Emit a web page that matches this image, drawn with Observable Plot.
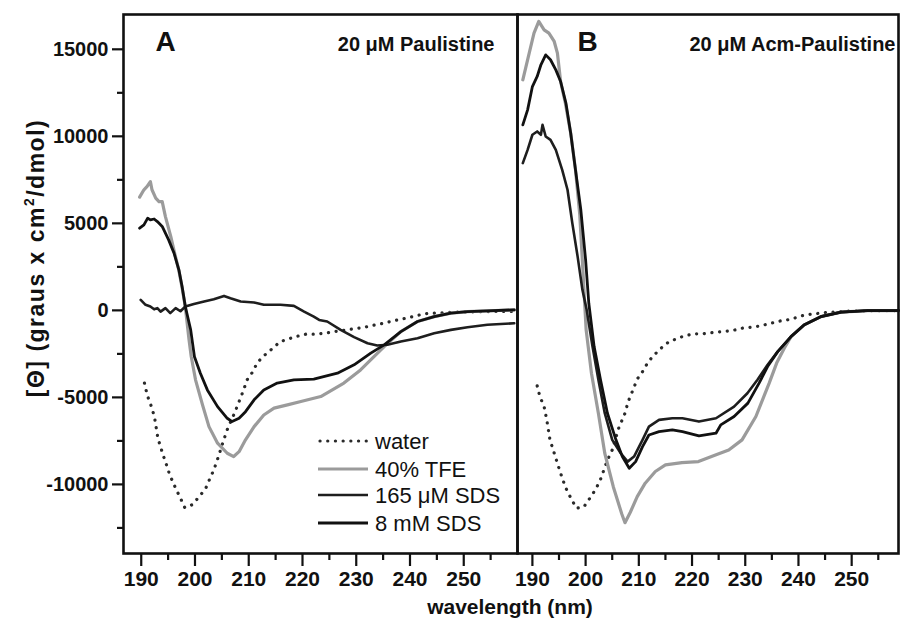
<!DOCTYPE html>
<html><head><meta charset="utf-8">
<script src="https://cdn.jsdelivr.net/npm/d3@7"></script>
<script src="https://cdn.jsdelivr.net/npm/@observablehq/plot@0.6"></script>
<style>
body{margin:0;background:#fff;font-family:"Liberation Sans",Arial,sans-serif;}
#wrap{position:relative;width:900px;height:623px;overflow:hidden;background:#fff;}
#wrap svg{position:absolute;top:0;}
.ov{position:absolute;color:#111;font-family:"Liberation Sans",Arial,sans-serif;}
</style></head><body><div id="wrap"></div>
<script>
// ---------- Panel A : 20 µM Paulistine ----------
const aWaterWl=[190.6,191.1,192.0,192.5,193.1,194.0,194.7,195.3,196.4,197.3,198.1,199.4,200.7,202.0,202.8,203.5,204.2,205.4,206.1,207.4,208.2,209.0,209.7,210.7,211.6,213.0,214.5,215.8,217.2,218.7,220.6,222.5,224.3,225.9,229.6,231.5,233.3,235.1,236.9,238.6,240.5,242.6,244.4,247,250,254,259.5];
const aWaterVal=[-4180,-4860,-5620,-6200,-7350,-8250,-8880,-9450,-10220,-10790,-11330,-11180,-10740,-10220,-9640,-9170,-8550,-7400,-6770,-5870,-5240,-4610,-3990,-3550,-3000,-2560,-2170,-1810,-1660,-1510,-1370,-1370,-1310,-1220,-1060,-970,-850,-740,-600,-490,-360,-200,-160,-120,-90,-70,-60];

const aTfeWl=[189.7,190.5,191.1,191.7,192.0,192.7,193.3,193.9,194.5,195.5,196.2,197.0,197.6,198.2,198.9,199.3,200.1,201.4,202.6,204.2,206.0,207.2,208.2,209.4,211.0,212.8,214.7,217.2,219.7,223.4,227.7,230.8,233.3,235.2,238.3,241.4,244.5,247.6,250.7,254.4,259.4];
const aTfeVal=[6510,6930,7120,7400,6930,6450,6250,6250,5390,4240,3300,2300,1300,200,-1700,-2650,-3990,-5430,-6680,-7630,-8210,-8400,-8120,-7440,-6680,-6010,-5620,-5430,-5240,-4950,-4180,-3420,-2660,-2080,-1220,-640,-360,-160,-70,-30,30];

const aSds165Wl=[189.9,190.8,191.7,192.4,193.0,193.6,194.5,195.4,196.4,197.3,198.2,199.8,201.7,203.5,205.4,206.6,208.5,211.0,212.8,215.9,218.4,220.3,222.1,223.1,224.6,227.1,229.6,232.1,233.9,235.8,238.3,241.4,244.5,247.6,250.7,254.4,259.4];
const aSds165Val=[600,320,220,60,130,-70,130,-160,130,-50,220,370,510,640,830,700,510,450,320,320,260,-70,-360,-550,-640,-1120,-1540,-1890,-2020,-1980,-1790,-1600,-1310,-1120,-970,-830,-740];

const aSds8Wl=[189.7,190.5,191.2,191.7,192.4,193.0,193.9,195.1,196.1,197.0,197.6,198.2,199.2,199.9,201.0,202.3,204.2,206.0,206.9,208.2,209.4,211.0,212.8,215.3,218.4,222.1,226.5,229.6,232.7,235.2,238.3,241.4,244.5,247.6,250.7,254.4,259.4];
const aSds8Val=[4720,4910,5300,5200,5250,5100,4820,4050,3290,2330,1370,220,-1120,-2660,-3610,-4570,-5530,-6200,-6390,-6200,-5820,-5140,-4570,-4180,-3990,-3950,-3610,-3130,-2460,-1980,-1220,-640,-360,-160,-70,-30,30];

// ---------- Panel B : 20 µM Acm-Paulistine ----------
const bWaterWl=[190.9,191.4,192.2,192.7,193.3,194.2,194.9,195.6,196.3,197.4,198.3,199.7,200.8,201.9,202.8,204.1,205.0,206.2,207.4,208.0,208.9,209.7,210.7,211.8,212.9,214.3,215.7,216.9,218.5,220.4,222.0,223.8,225.7,227.6,229.5,231.0,232.9,234.8,236.7,238.6,240.5,242.3,244.2,246.1,249,253,258.6];
const bWaterVal=[-4340,-4950,-5530,-6290,-7440,-8300,-8980,-9640,-10220,-10890,-11370,-11280,-10790,-10280,-9710,-8600,-8020,-6780,-5910,-5240,-4570,-3950,-3520,-2940,-2560,-2140,-1790,-1660,-1470,-1350,-1350,-1280,-1220,-1160,-1020,-970,-890,-740,-600,-510,-320,-220,-160,-100,-50,-20,-10];

const bTfeWl=[188.2,189.4,190.3,191.2,192.2,193.1,194.1,194.7,195.3,196.2,197.2,198.1,198.9,199.4,200.1,201.1,202.4,203.6,205.2,206.8,207.4,208.4,209.7,211.2,213.1,215.0,218.1,221.2,224.4,226.9,229.4,232.0,234.5,235.9,237.5,238.6,241.1,244.2,248.0,253.0,258.8];
const bTfeVal=[13250,14780,15930,16600,16120,15930,15450,14780,13150,11900,10180,8070,5500,2800,-1120,-3610,-5910,-8210,-10130,-11700,-12200,-11600,-10700,-9930,-9260,-8880,-8750,-8690,-8310,-8020,-7440,-6100,-4180,-3030,-2080,-1510,-830,-360,-100,-10,-10];

const bSds8Wl=[188.2,189.1,190.0,190.9,191.6,192.5,193.4,194.4,195.3,196.3,197.2,198.1,199.1,200.0,200.6,201.6,202.8,204.1,205.7,206.9,208.2,209.4,210.7,211.9,213.8,216.3,218.2,221.3,224.5,225.4,227.9,230.5,232.6,234.2,236.1,238.6,241.1,244.2,248.0,253.0,258.8];
const bSds8Val=[10660,11520,12860,13440,14110,14680,14400,13820,13150,11910,10180,8070,5780,2900,410,-2080,-3990,-5910,-7440,-8400,-9070,-8690,-7830,-7160,-6970,-6870,-6970,-7210,-7060,-6580,-6100,-5330,-4180,-3230,-2370,-1510,-830,-360,-100,-10,-10];

const bSds165Wl=[188.2,189.1,190.0,190.9,191.6,191.9,192.5,193.4,194.4,195.6,196.6,197.5,198.5,199.4,200.2,201.3,202.4,203.6,205.0,206.6,207.9,209.1,210.7,211.9,213.8,216.3,218.2,221.3,224.5,227.9,230.4,232.3,234.2,236.1,238.6,241.1,244.2,248.0,253.0,258.8];
const bSds165Val=[8460,9220,10090,10280,10090,10660,9990,9800,9220,8070,6930,5010,3090,1180,30,-2080,-3990,-5910,-7440,-8210,-8690,-8400,-7440,-6680,-6290,-6200,-6200,-6390,-6200,-5530,-4760,-3990,-3130,-2370,-1510,-830,-360,-100,-10,-10];

// ---------- axes ----------
const yMajor=[-10000,-5000,0,5000,10000,15000];
const yMinor=[-12500,-7500,-2500,2500,7500,12500];
const xMajor=[190,200,210,220,230,240,250];
const xMinor=[195,205,215,225,235,245,255];
const yDomain=[-13970,17000];
const legendNames=["water","40% TFE","165 \u03bcM SDS","8 mM SDS"];

const rows=(wl,val)=>wl.map((w,i)=>({wl:w,v:val[i]}));
const FONT='"Liberation Sans", Arial, sans-serif';

function panel(cfg){
  const marks=[
    Plot.line(rows(cfg.water[0],cfg.water[1]),{x:"wl",y:"v",stroke:"#2a2a2a",strokeWidth:3.2,strokeDasharray:"0.1,7.6",strokeLinecap:"round"}),
    Plot.line(rows(cfg.tfe[0],cfg.tfe[1]),{x:"wl",y:"v",stroke:"#9b9b9b",strokeWidth:3.2,strokeLinejoin:"round"}),
    Plot.line(rows(cfg.s165[0],cfg.s165[1]),{x:"wl",y:"v",stroke:"#1e1e1e",strokeWidth:2.6,strokeLinejoin:"round"}),
    Plot.line(rows(cfg.s8[0],cfg.s8[1]),{x:"wl",y:"v",stroke:"#111",strokeWidth:2.8,strokeLinejoin:"round"}),
    Plot.frame({stroke:"#111",strokeWidth:2.6}),
    Plot.axisX({ticks:xMajor,tickSize:13,tickPadding:5,tickFormat:d=>String(d),fontSize:21,fontWeight:"bold",strokeWidth:2.2,label:null}),
    Plot.axisX({ticks:xMinor,tickSize:7,tickFormat:()=>"",strokeWidth:2.2,label:null}),
    Plot.text([cfg.letter],{frameAnchor:"top-left",dx:cfg.letterDx,dy:28,fontSize:28,fontWeight:"bold",textAnchor:"start",lineAnchor:"middle",fill:"#111"}),
    Plot.text([cfg.title],{frameAnchor:"top-right",dx:cfg.titleDx,dy:30,fontSize:20,fontWeight:"bold",textAnchor:"end",lineAnchor:"middle",fill:"#111",letterSpacing:"1.4px"})
  ];
  if(cfg.yAxis){
    marks.push(Plot.axisY({ticks:yMajor,tickSize:11,tickPadding:4,tickFormat:d=>String(d),fontSize:20,fontWeight:"bold",strokeWidth:2.2,label:null}));
    marks.push(Plot.axisY({ticks:yMinor,tickSize:6,tickFormat:()=>"",strokeWidth:2.2,label:null}));
  }
  return Plot.plot({
    width:cfg.width,height:623,marginTop:14,marginBottom:70,marginLeft:cfg.ml,marginRight:cfg.mr,
    x:{domain:cfg.xDomain,label:null},
    y:{domain:yDomain,label:null,axis:cfg.yAxis?undefined:null},
    style:{fontFamily:FONT,color:"#111",background:"transparent",overflow:"visible"},
    marks
  });
}

const wrap=document.getElementById("wrap");
const left=panel({width:518,ml:123,mr:1,xDomain:[186.7,260],yAxis:true,
  water:[aWaterWl,aWaterVal],tfe:[aTfeWl,aTfeVal],s165:[aSds165Wl,aSds165Val],s8:[aSds8Wl,aSds8Val],
  letter:"A",letterDx:32,title:"20 \u03bcM Paulistine",titleDx:-23});
left.style.left="0px";
const right=panel({width:384,ml:1,mr:2,xDomain:[187.2,258.8],yAxis:false,
  water:[bWaterWl,bWaterVal],tfe:[bTfeWl,bTfeVal],s165:[bSds165Wl,bSds165Val],s8:[bSds8Wl,bSds8Val],
  letter:"B",letterDx:60,title:"20 \u03bcM Acm-Paulistine",titleDx:-3});
right.style.left="516px";
wrap.appendChild(left);
wrap.appendChild(right);

// y-axis title
const yt=document.createElement("div");
yt.className="ov";
yt.style.cssText="left:-170px;top:244px;width:400px;height:28px;line-height:28px;text-align:center;transform:rotate(-90deg);font-weight:bold;font-size:23px;letter-spacing:1.5px;white-space:nowrap;";
yt.innerHTML='[\u0398] (graus x cm<span style="font-size:0.6em;vertical-align:0.75em">2</span>/dmol)';
wrap.appendChild(yt);

// x-axis title
const xt=document.createElement("div");
xt.className="ov";
xt.style.cssText="left:310px;top:595px;width:400px;text-align:center;font-weight:bold;font-size:21px;white-space:nowrap;";
xt.textContent="wavelength (nm)";
wrap.appendChild(xt);

// legend
const lg=d3.select(wrap).append("svg").attr("width",220).attr("height",115)
  .style("left","310px").style("top","425px").style("position","absolute");
const styles=[
  {stroke:"#2a2a2a",w:3.2,dash:"0.1,7.6",cap:"round"},
  {stroke:"#9b9b9b",w:3.2,dash:null,cap:"butt"},
  {stroke:"#1e1e1e",w:2.6,dash:null,cap:"butt"},
  {stroke:"#111",w:2.8,dash:null,cap:"butt"}
];
const rowY=[16,44,70,98];
legendNames.forEach((name,i)=>{
  const s=styles[i];
  lg.append("line").attr("x1",s.dash?10:8).attr("x2",58).attr("y1",rowY[i]).attr("y2",rowY[i])
    .attr("stroke",s.stroke).attr("stroke-width",s.w).attr("stroke-dasharray",s.dash).attr("stroke-linecap",s.cap);
  lg.append("text").attr("x",65).attr("y",rowY[i]).attr("dy","0.36em")
    .attr("font-family",FONT).attr("font-size",22).attr("fill","#111").text(name);
});
</script></body></html>
